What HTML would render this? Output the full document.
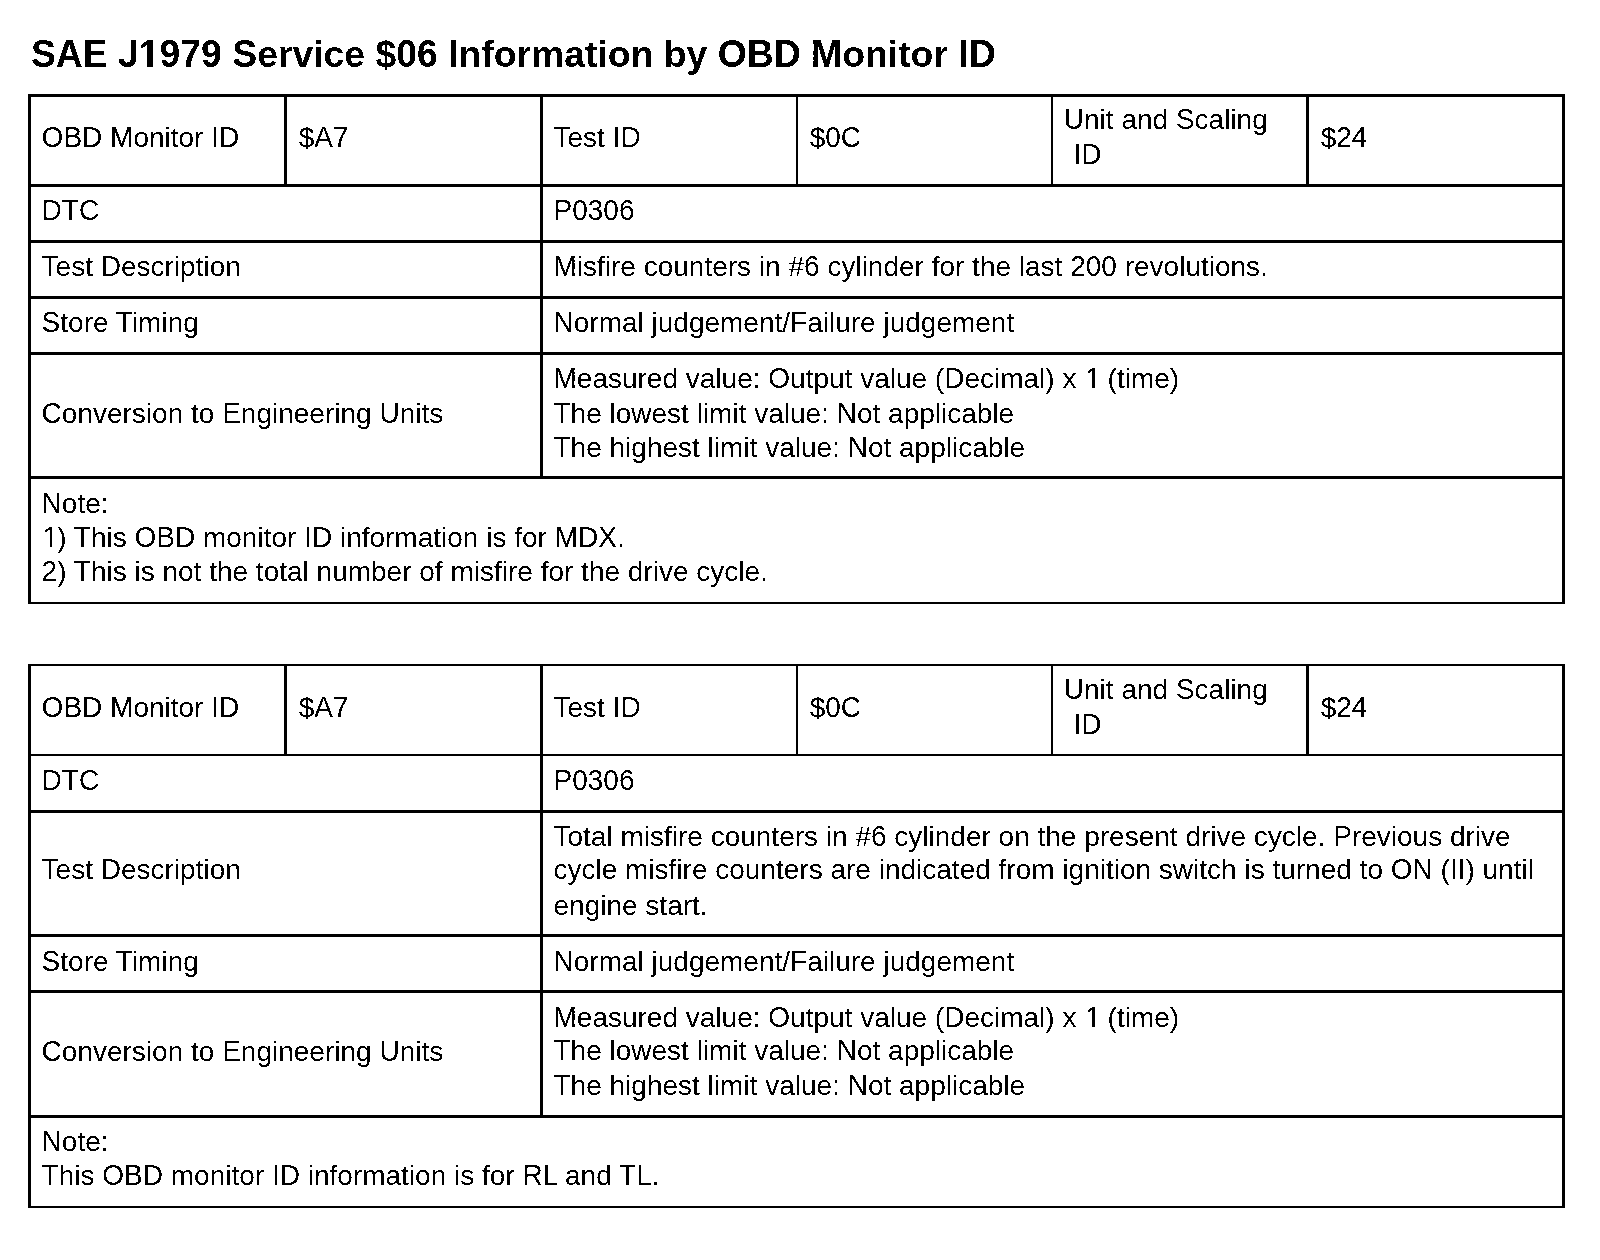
<!DOCTYPE html>
<html><head><meta charset="utf-8"><style>
html,body{margin:0;padding:0;background:#fff;}
body{width:1600px;height:1260px;position:relative;overflow:hidden;font-family:"Liberation Sans",sans-serif;color:#000;}
.l{position:absolute;background:#000;}
.t{position:absolute;white-space:pre;line-height:0;font-size:28px;}
.b{font-weight:bold;}
.o1{position:relative;left:1px;}
.h{color:transparent;}
.k{color:transparent;}
.k .v{color:#000;}
#tx{position:absolute;left:0;top:0;width:1600px;height:1260px;filter:url(#bin);}
</style></head><body>
<svg width="0" height="0" style="position:absolute"><filter id="bin" x="0" y="0" width="100%" height="100%" color-interpolation-filters="sRGB"><feComponentTransfer><feFuncA type="discrete" tableValues="0 1"/></feComponentTransfer></filter></svg>
<div class="l" style="left:28px;top:94px;width:1537px;height:3px"></div>
<div class="l" style="left:28px;top:184px;width:1537px;height:3px"></div>
<div class="l" style="left:28px;top:240px;width:1537px;height:3px"></div>
<div class="l" style="left:28px;top:296px;width:1537px;height:3px"></div>
<div class="l" style="left:28px;top:352px;width:1537px;height:3px"></div>
<div class="l" style="left:28px;top:476px;width:1537px;height:3px"></div>
<div class="l" style="left:28px;top:602px;width:1537px;height:2px"></div>
<div class="l" style="left:28px;top:94px;width:3px;height:510px"></div>
<div class="l" style="left:1562px;top:94px;width:3px;height:510px"></div>
<div class="l" style="left:540px;top:94px;width:3px;height:385px"></div>
<div class="l" style="left:284px;top:94px;width:3px;height:93px"></div>
<div class="l" style="left:796px;top:94px;width:2px;height:93px"></div>
<div class="l" style="left:1051px;top:94px;width:2px;height:93px"></div>
<div class="l" style="left:1306px;top:94px;width:3px;height:93px"></div>
<div class="l" style="left:28px;top:664px;width:1537px;height:2px"></div>
<div class="l" style="left:28px;top:754px;width:1537px;height:2px"></div>
<div class="l" style="left:28px;top:810px;width:1537px;height:3px"></div>
<div class="l" style="left:28px;top:934px;width:1537px;height:3px"></div>
<div class="l" style="left:28px;top:990px;width:1537px;height:3px"></div>
<div class="l" style="left:28px;top:1115px;width:1537px;height:3px"></div>
<div class="l" style="left:28px;top:1206px;width:1537px;height:2px"></div>
<div class="l" style="left:28px;top:664px;width:3px;height:544px"></div>
<div class="l" style="left:1562px;top:664px;width:3px;height:544px"></div>
<div class="l" style="left:540px;top:664px;width:3px;height:454px"></div>
<div class="l" style="left:284px;top:664px;width:3px;height:92px"></div>
<div class="l" style="left:796px;top:664px;width:2px;height:92px"></div>
<div class="l" style="left:1051px;top:664px;width:2px;height:92px"></div>
<div class="l" style="left:1306px;top:664px;width:3px;height:92px"></div>
<div id="tx">
<div class="t b" style="left:30.90px;top:53.56px;font-size:37.333px"><span class="h">S</span><span class="h">A</span><span class="h">E</span> <span class="h">J</span><span class="h">1</span><span class="h">9</span><span class="h">7</span><span class="h">9</span> <span class="h">S</span>ervice $<span class="h">0</span><span class="h">6</span> <span class="h">I</span>nformation by <span class="h">O</span><span class="h">B</span><span class="h">D</span> <span class="h">M</span>onitor <span class="h">I</span><span class="h">D</span></div>
<div class="t b k" style="left:30.90px;top:52.56px;font-size:37.333px;transform:scaleY(1.060);transform-origin:0 0"><span class="v">S</span><span class="v">A</span><span class="v">E</span> <span class="v">J</span><span class="v">1</span><span class="v">9</span><span class="v">7</span><span class="v">9</span> <span class="v">S</span>ervice $<span class="v">0</span><span class="v">6</span> <span class="v">I</span>nformation by <span class="v">O</span><span class="v">B</span><span class="v">D</span> <span class="v">M</span>onitor <span class="v">I</span><span class="v">D</span></div>
<div class="t" style="left:41.60px;top:137.79px"><span class="h">O</span><span class="h">B</span><span class="h">D</span> <span class="h">M</span>onitor <span class="h">I</span><span class="h">D</span></div>
<div class="t k" style="left:41.60px;top:136.79px;transform:scaleY(1.060);transform-origin:0 0"><span class="v">O</span><span class="v">B</span><span class="v">D</span> <span class="v">M</span>onitor <span class="v">I</span><span class="v">D</span></div>
<div class="t" style="left:298.70px;top:137.79px">$<span class="h">A</span><span class="h">7</span></div>
<div class="t k" style="left:298.70px;top:136.79px;transform:scaleY(1.060);transform-origin:0 0">$<span class="v">A</span><span class="v">7</span></div>
<div class="t" style="left:553.50px;top:137.79px"><span class="h">T</span>est <span class="h">I</span><span class="h">D</span></div>
<div class="t k" style="left:553.50px;top:136.79px;transform:scaleY(1.060);transform-origin:0 0"><span class="v">T</span>est <span class="v">I</span><span class="v">D</span></div>
<div class="t" style="left:809.70px;top:137.79px">$<span class="h">0</span><span class="h">C</span></div>
<div class="t k" style="left:809.70px;top:136.79px;transform:scaleY(1.060);transform-origin:0 0">$<span class="v">0</span><span class="v">C</span></div>
<div class="t" style="left:1063.80px;top:119.79px"><span class="h">U</span>nit and <span class="h">S</span>caling</div>
<div class="t k" style="left:1063.80px;top:118.79px;transform:scaleY(1.060);transform-origin:0 0"><span class="v">U</span>nit and <span class="v">S</span>caling</div>
<div class="t" style="left:1073.40px;top:154.79px"><span class="h">I</span><span class="h">D</span></div>
<div class="t k" style="left:1073.40px;top:153.79px;transform:scaleY(1.060);transform-origin:0 0"><span class="v">I</span><span class="v">D</span></div>
<div class="t" style="left:1320.70px;top:137.79px">$<span class="h">2</span><span class="h">4</span></div>
<div class="t k" style="left:1320.70px;top:136.79px;transform:scaleY(1.060);transform-origin:0 0">$<span class="v">2</span><span class="v">4</span></div>
<div class="t" style="left:41.60px;top:210.79px"><span class="h">D</span><span class="h">T</span><span class="h">C</span></div>
<div class="t k" style="left:41.60px;top:209.79px;transform:scaleY(1.060);transform-origin:0 0"><span class="v">D</span><span class="v">T</span><span class="v">C</span></div>
<div class="t" style="left:553.50px;top:210.79px"><span class="h">P</span><span class="h">0</span><span class="h">3</span><span class="h">0</span><span class="h">6</span></div>
<div class="t k" style="left:553.50px;top:209.79px;transform:scaleY(1.060);transform-origin:0 0"><span class="v">P</span><span class="v">0</span><span class="v">3</span><span class="v">0</span><span class="v">6</span></div>
<div class="t" style="left:41.60px;top:707.79px"><span class="h">O</span><span class="h">B</span><span class="h">D</span> <span class="h">M</span>onitor <span class="h">I</span><span class="h">D</span></div>
<div class="t k" style="left:41.60px;top:706.79px;transform:scaleY(1.060);transform-origin:0 0"><span class="v">O</span><span class="v">B</span><span class="v">D</span> <span class="v">M</span>onitor <span class="v">I</span><span class="v">D</span></div>
<div class="t" style="left:298.70px;top:707.79px">$<span class="h">A</span><span class="h">7</span></div>
<div class="t k" style="left:298.70px;top:706.79px;transform:scaleY(1.060);transform-origin:0 0">$<span class="v">A</span><span class="v">7</span></div>
<div class="t" style="left:553.50px;top:707.79px"><span class="h">T</span>est <span class="h">I</span><span class="h">D</span></div>
<div class="t k" style="left:553.50px;top:706.79px;transform:scaleY(1.060);transform-origin:0 0"><span class="v">T</span>est <span class="v">I</span><span class="v">D</span></div>
<div class="t" style="left:809.70px;top:707.79px">$<span class="h">0</span><span class="h">C</span></div>
<div class="t k" style="left:809.70px;top:706.79px;transform:scaleY(1.060);transform-origin:0 0">$<span class="v">0</span><span class="v">C</span></div>
<div class="t" style="left:1063.80px;top:689.79px"><span class="h">U</span>nit and <span class="h">S</span>caling</div>
<div class="t k" style="left:1063.80px;top:688.79px;transform:scaleY(1.060);transform-origin:0 0"><span class="v">U</span>nit and <span class="v">S</span>caling</div>
<div class="t" style="left:1073.40px;top:724.79px"><span class="h">I</span><span class="h">D</span></div>
<div class="t k" style="left:1073.40px;top:723.79px;transform:scaleY(1.060);transform-origin:0 0"><span class="v">I</span><span class="v">D</span></div>
<div class="t" style="left:1320.70px;top:707.79px">$<span class="h">2</span><span class="h">4</span></div>
<div class="t k" style="left:1320.70px;top:706.79px;transform:scaleY(1.060);transform-origin:0 0">$<span class="v">2</span><span class="v">4</span></div>
<div class="t" style="left:41.60px;top:780.79px"><span class="h">D</span><span class="h">T</span><span class="h">C</span></div>
<div class="t k" style="left:41.60px;top:779.79px;transform:scaleY(1.060);transform-origin:0 0"><span class="v">D</span><span class="v">T</span><span class="v">C</span></div>
<div class="t" style="left:553.50px;top:780.79px"><span class="h">P</span><span class="h">0</span><span class="h">3</span><span class="h">0</span><span class="h">6</span></div>
<div class="t k" style="left:553.50px;top:779.79px;transform:scaleY(1.060);transform-origin:0 0"><span class="v">P</span><span class="v">0</span><span class="v">3</span><span class="v">0</span><span class="v">6</span></div>
<div class="t" style="left:41.60px;top:266.79px"><span class="h">T</span>est <span class="h">D</span>escription</div>
<div class="t k" style="left:41.60px;top:265.79px;transform:scaleY(1.060);transform-origin:0 0"><span class="v">T</span>est <span class="v">D</span>escription</div>
<div class="t" style="left:553.50px;top:266.79px"><span class="h">M</span>isfire counters in #<span class="h">6</span> cylinder for the last <span class="h">2</span><span class="h">0</span><span class="h">0</span> revolutions.</div>
<div class="t k" style="left:553.50px;top:265.79px;transform:scaleY(1.060);transform-origin:0 0"><span class="v">M</span>isfire counters in #<span class="v">6</span> cylinder for the last <span class="v">2</span><span class="v">0</span><span class="v">0</span> revolutions.</div>
<div class="t" style="left:41.60px;top:322.79px"><span class="h">S</span>tore <span class="h">T</span>iming</div>
<div class="t k" style="left:41.60px;top:321.79px;transform:scaleY(1.060);transform-origin:0 0"><span class="v">S</span>tore <span class="v">T</span>iming</div>
<div class="t" style="left:553.50px;top:322.79px"><span class="h">N</span>ormal judgement/<span class="h">F</span>ailure judgement</div>
<div class="t k" style="left:553.50px;top:321.79px;transform:scaleY(1.060);transform-origin:0 0"><span class="v">N</span>ormal judgement/<span class="v">F</span>ailure judgement</div>
<div class="t" style="left:41.60px;top:413.79px"><span class="h">C</span>onversion to <span class="h">E</span>ngineering <span class="h">U</span>nits</div>
<div class="t k" style="left:41.60px;top:412.79px;transform:scaleY(1.060);transform-origin:0 0"><span class="v">C</span>onversion to <span class="v">E</span>ngineering <span class="v">U</span>nits</div>
<div class="t" style="left:553.50px;top:378.79px"><span class="h">M</span>easured value: <span class="h">O</span>utput value (<span class="h">D</span>ecimal) x <span class="h"><span class="o1">1</span></span> (time)</div>
<div class="t k" style="left:553.50px;top:377.79px;transform:scaleY(1.060);transform-origin:0 0"><span class="v">M</span>easured value: <span class="v">O</span>utput value (<span class="v">D</span>ecimal) x <span class="v"><span class="o1">1</span></span> (time)</div>
<div class="t" style="left:553.50px;top:413.79px"><span class="h">T</span>he lowest limit value: <span class="h">N</span>ot applicable</div>
<div class="t k" style="left:553.50px;top:412.79px;transform:scaleY(1.060);transform-origin:0 0"><span class="v">T</span>he lowest limit value: <span class="v">N</span>ot applicable</div>
<div class="t" style="left:553.50px;top:447.79px"><span class="h">T</span>he highest limit value: <span class="h">N</span>ot applicable</div>
<div class="t k" style="left:553.50px;top:446.79px;transform:scaleY(1.060);transform-origin:0 0"><span class="v">T</span>he highest limit value: <span class="v">N</span>ot applicable</div>
<div class="t" style="left:41.60px;top:503.79px"><span class="h">N</span>ote:</div>
<div class="t k" style="left:41.60px;top:502.79px;transform:scaleY(1.060);transform-origin:0 0"><span class="v">N</span>ote:</div>
<div class="t" style="left:41.60px;top:537.79px"><span class="h"><span class="o1">1</span></span>) <span class="h">T</span>his <span class="h">O</span><span class="h">B</span><span class="h">D</span> monitor <span class="h">I</span><span class="h">D</span> information is for <span class="h">M</span><span class="h">D</span><span class="h">X</span>.</div>
<div class="t k" style="left:41.60px;top:536.79px;transform:scaleY(1.060);transform-origin:0 0"><span class="v"><span class="o1">1</span></span>) <span class="v">T</span>his <span class="v">O</span><span class="v">B</span><span class="v">D</span> monitor <span class="v">I</span><span class="v">D</span> information is for <span class="v">M</span><span class="v">D</span><span class="v">X</span>.</div>
<div class="t" style="left:41.60px;top:571.79px"><span class="h">2</span>) <span class="h">T</span>his is not the total number of misfire for the drive cycle.</div>
<div class="t k" style="left:41.60px;top:570.79px;transform:scaleY(1.060);transform-origin:0 0"><span class="v">2</span>) <span class="v">T</span>his is not the total number of misfire for the drive cycle.</div>
<div class="t" style="left:41.60px;top:869.79px"><span class="h">T</span>est <span class="h">D</span>escription</div>
<div class="t k" style="left:41.60px;top:868.79px;transform:scaleY(1.060);transform-origin:0 0"><span class="v">T</span>est <span class="v">D</span>escription</div>
<div class="t" style="left:553.50px;top:836.79px"><span class="h">T</span>otal misfire counters in #<span class="h">6</span> cylinder on the present drive cycle. <span class="h">P</span>revious drive</div>
<div class="t k" style="left:553.50px;top:835.79px;transform:scaleY(1.060);transform-origin:0 0"><span class="v">T</span>otal misfire counters in #<span class="v">6</span> cylinder on the present drive cycle. <span class="v">P</span>revious drive</div>
<div class="t" style="left:553.50px;top:869.79px">cycle misfire counters are indicated from ignition switch is turned to <span class="h">O</span><span class="h">N</span> (<span class="h">I</span><span class="h">I</span>) until</div>
<div class="t k" style="left:553.50px;top:868.79px;transform:scaleY(1.060);transform-origin:0 0">cycle misfire counters are indicated from ignition switch is turned to <span class="v">O</span><span class="v">N</span> (<span class="v">I</span><span class="v">I</span>) until</div>
<div class="t" style="left:553.50px;top:905.79px">engine start.</div>
<div class="t" style="left:41.60px;top:961.79px"><span class="h">S</span>tore <span class="h">T</span>iming</div>
<div class="t k" style="left:41.60px;top:960.79px;transform:scaleY(1.060);transform-origin:0 0"><span class="v">S</span>tore <span class="v">T</span>iming</div>
<div class="t" style="left:553.50px;top:961.79px"><span class="h">N</span>ormal judgement/<span class="h">F</span>ailure judgement</div>
<div class="t k" style="left:553.50px;top:960.79px;transform:scaleY(1.060);transform-origin:0 0"><span class="v">N</span>ormal judgement/<span class="v">F</span>ailure judgement</div>
<div class="t" style="left:41.60px;top:1051.79px"><span class="h">C</span>onversion to <span class="h">E</span>ngineering <span class="h">U</span>nits</div>
<div class="t k" style="left:41.60px;top:1050.79px;transform:scaleY(1.060);transform-origin:0 0"><span class="v">C</span>onversion to <span class="v">E</span>ngineering <span class="v">U</span>nits</div>
<div class="t" style="left:553.50px;top:1017.79px"><span class="h">M</span>easured value: <span class="h">O</span>utput value (<span class="h">D</span>ecimal) x <span class="h"><span class="o1">1</span></span> (time)</div>
<div class="t k" style="left:553.50px;top:1016.79px;transform:scaleY(1.060);transform-origin:0 0"><span class="v">M</span>easured value: <span class="v">O</span>utput value (<span class="v">D</span>ecimal) x <span class="v"><span class="o1">1</span></span> (time)</div>
<div class="t" style="left:553.50px;top:1050.79px"><span class="h">T</span>he lowest limit value: <span class="h">N</span>ot applicable</div>
<div class="t k" style="left:553.50px;top:1049.79px;transform:scaleY(1.060);transform-origin:0 0"><span class="v">T</span>he lowest limit value: <span class="v">N</span>ot applicable</div>
<div class="t" style="left:553.50px;top:1085.79px"><span class="h">T</span>he highest limit value: <span class="h">N</span>ot applicable</div>
<div class="t k" style="left:553.50px;top:1084.79px;transform:scaleY(1.060);transform-origin:0 0"><span class="v">T</span>he highest limit value: <span class="v">N</span>ot applicable</div>
<div class="t" style="left:41.60px;top:1141.79px"><span class="h">N</span>ote:</div>
<div class="t k" style="left:41.60px;top:1140.79px;transform:scaleY(1.060);transform-origin:0 0"><span class="v">N</span>ote:</div>
<div class="t" style="left:41.60px;top:1175.79px"><span class="h">T</span>his <span class="h">O</span><span class="h">B</span><span class="h">D</span> monitor <span class="h">I</span><span class="h">D</span> information is for <span class="h">R</span><span class="h">L</span> and <span class="h">T</span><span class="h">L</span>.</div>
<div class="t k" style="left:41.60px;top:1174.79px;transform:scaleY(1.060);transform-origin:0 0"><span class="v">T</span>his <span class="v">O</span><span class="v">B</span><span class="v">D</span> monitor <span class="v">I</span><span class="v">D</span> information is for <span class="v">R</span><span class="v">L</span> and <span class="v">T</span><span class="v">L</span>.</div>
<div style="position:absolute;background:#fff;left:140.32px;top:61.64px;width:7.16px;height:5.44px"></div>
<div style="position:absolute;background:#fff;left:152.61px;top:61.64px;width:6.69px;height:5.44px"></div>
<div style="position:absolute;background:#fff;left:1086.50px;top:385.27px;width:5.71px;height:3.62px"></div>
<div style="position:absolute;background:#fff;left:1094.69px;top:385.27px;width:5.49px;height:3.62px"></div>
<div style="position:absolute;background:#fff;left:43.92px;top:544.27px;width:5.71px;height:3.62px"></div>
<div style="position:absolute;background:#fff;left:52.11px;top:544.27px;width:5.49px;height:3.62px"></div>
<div style="position:absolute;background:#fff;left:1086.50px;top:1024.27px;width:5.71px;height:3.62px"></div>
<div style="position:absolute;background:#fff;left:1094.69px;top:1024.27px;width:5.49px;height:3.62px"></div>
<div style="position:absolute;background:#fff;left:124.93px;top:38.25px;width:5.87px;height:6.46px"></div>
</div>
</body></html>
